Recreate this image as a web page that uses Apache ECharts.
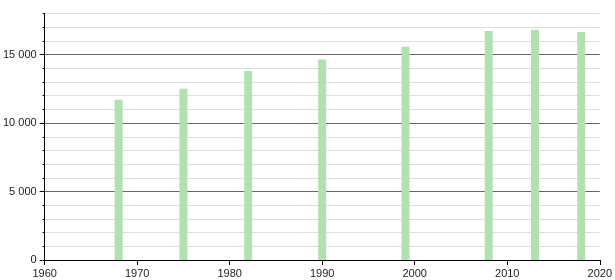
<!DOCTYPE html>
<html>
<head>
<meta charset="utf-8">
<script src="https://cdn.jsdelivr.net/npm/echarts@6/dist/echarts.min.js"></script>
<style>
html,body{margin:0;padding:0;background:#fff;}
#chart{width:615px;height:280px;}
</style>
</head>
<body>
<div id="chart"></div>
<script>
const years = [1968, 1975, 1982, 1990, 1999, 2008, 2013, 2018];
const population = [11700, 12500, 13800, 14640, 15580, 16720, 16810, 16650];
const yMajorTicks = [0, 5000, 10000, 15000];
const xTickYears = [1960, 1970, 1980, 1990, 2000, 2010, 2020];

function fmt(v) {
  return String(v).replace(/\B(?=(\d{3})+(?!\d))/g, ' ');
}

const chart = echarts.init(document.getElementById('chart'));
const font = { fontFamily: 'Liberation Sans, Arial, sans-serif', fontSize: 11, color: '#222' };

chart.setOption({
  animation: false,
  backgroundColor: '#fff',
  grid: { left: 42, right: 11, top: 13.5, bottom: 20, containLabel: false },
  xAxis: {
    type: 'value',
    min: xTickYears[0],
    max: xTickYears[xTickYears.length - 1],
    interval: 10,
    axisLine: { show: true, onZero: false, lineStyle: { color: '#000', width: 1 } },
    axisTick: { show: true, length: 5, lineStyle: { color: '#000' } },
    axisLabel: Object.assign({ margin: 8, formatter: v => String(v) }, font),
    splitLine: { show: false }
  },
  yAxis: [
    {
      type: 'value',
      min: 0,
      max: 18000,
      interval: 1000,
      axisLine: { show: true, lineStyle: { color: '#000', width: 1 } },
      axisTick: { show: true, length: 2, lineStyle: { color: '#000' } },
      axisLabel: { show: false },
      splitLine: {
        show: true,
        lineStyle: { color: ['#666', '#dedede', '#dedede', '#dedede', '#dedede'], width: 1 }
      }
    },
    {
      type: 'value',
      position: 'left',
      min: 0,
      max: 18000,
      interval: 5000,
      axisLine: { show: false },
      axisTick: { show: true, length: 5, customValues: yMajorTicks, lineStyle: { color: '#000' } },
      axisLabel: Object.assign({ margin: 8, customValues: yMajorTicks, formatter: v => fmt(v) }, font),
      splitLine: { show: false }
    }
  ],
  series: [{
    type: 'bar',
    yAxisIndex: 0,
    barWidth: 8,
    itemStyle: { color: '#afe2af' },
    data: years.map((y, i) => [y, population[i]])
  }]
});
</script>
</body>
</html>
